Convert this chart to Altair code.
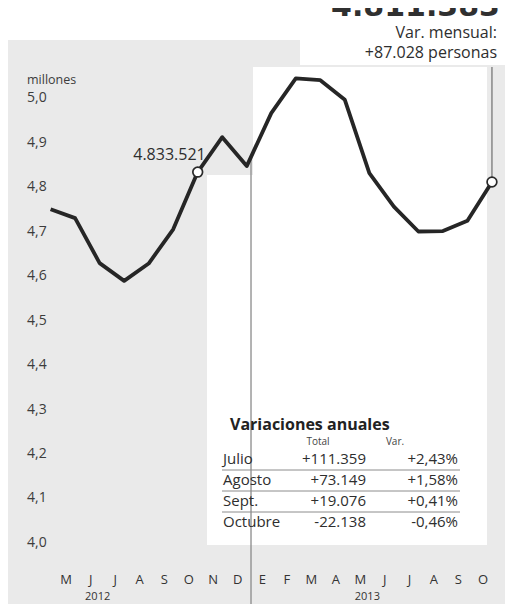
import altair as alt
import pandas as pd
import numpy as np

# ---------------- data ----------------
# monthly points, April 2012 .. October 2013 (millions of people)
point_months = ["A", "M", "J", "J", "A", "S", "O", "N", "D",
                "E", "F", "M", "A", "M", "J", "J", "A", "S", "O"]
values = [4.750, 4.730, 4.629, 4.589, 4.628, 4.705, 4.833521, 4.912, 4.847,
          4.966, 5.044, 5.040, 4.996, 4.831, 4.756, 4.700, 4.701, 4.724, 4.811383]

# x-axis month letters (first point, April 2012, carries no letter)
axis_months = point_months[1:]
years = ["2012", "2013"]
year_at = [2, 13]

y_ticks = [5.0, 4.9, 4.8, 4.7, 4.6, 4.5, 4.4, 4.3, 4.2, 4.1, 4.0]
y_tick_labels = ["5,0", "4,9", "4,8", "4,7", "4,6", "4,5", "4,4", "4,3", "4,2", "4,1", "4,0"]

highlight_idx = [6, 18]
highlight_label = ["4.833.521", ""]

big_number = "4.811.383"
sub_lines = ["Var. mensual:", "+87.028 personas"]

table_title = "Variaciones anuales"
table_header = ["Total", "Var."]
table_rows = ["Julio", "Agosto", "Sept.", "Octubre"]
table_totals = ["+111.359", "+73.149", "+19.076", "-22.138"]
table_pct = ["+2,43%", "+1,58%", "+0,41%", "-0,46%"]

# ---------------- layout ----------------
W, H = 497, 596
FONT = "Open Sans"
INK = "#2e2e2e"
GREY = "#eaeaea"

idx = list(range(len(values)))
df = pd.DataFrame({"i": idx, "v": values, "m": point_months})
xs = alt.Scale(domain=[-1.737, 18.532], nice=False, zero=False)
ys = alt.Scale(domain=[3.86292, 5.20225], nice=False, zero=False)
X = lambda f: alt.X(f, scale=xs, axis=None)
Y = lambda f: alt.Y(f, scale=ys, axis=None)

# background (scan-like grey with white panels)
bg = pd.DataFrame({
    "x": [0, 292, 245, 199], "x2": [292, 497, 479, 245],
    "y": [32, 57, 59, 167], "y2": [596, 596, 537, 537],
    "c": [GREY, GREY, "#ffffff", "#ffffff"],
})
background = alt.Chart(bg).mark_rect().encode(
    x=alt.X("x:Q", scale=None), x2="x2:Q",
    y=alt.Y("y:Q", scale=None), y2="y2:Q",
    color=alt.Color("c:N", scale=None),
)

# year separator between December and January
sep_i = 8.5
sep_top = float(np.interp(sep_i - 0.3, idx, values))
sep = alt.Chart(pd.DataFrame({"i": [sep_i], "v": [sep_top]})).mark_rule(
    color="#8a8a8a", strokeWidth=1.3
).encode(x=X("i:Q"), y=Y("v:Q"), y2=alt.value(H), xOffset=alt.value(-8))

line = alt.Chart(df).mark_line(color="#262626", strokeWidth=3.8, strokeJoin="round").encode(
    x=X("i:Q"), y=Y("v:Q")
)

hl = pd.DataFrame({"i": highlight_idx, "v": [values[k] for k in highlight_idx],
                   "t": highlight_label})
last = hl.iloc[[1]]
pointer = alt.Chart(last).mark_rule(color="#777777", strokeWidth=1.3).encode(
    x=X("i:Q"), y=Y("v:Q"), y2=alt.value(59)
)
circles = alt.Chart(hl).mark_point(
    shape="circle", filled=True, fill="white", stroke="#2a2a2a", strokeWidth=1.7, size=95, opacity=1
).encode(x=X("i:Q"), y=Y("v:Q"))
hl_text = alt.Chart(hl.iloc[[0]]).mark_text(
    align="right", baseline="middle", dx=8, dy=-17, font=FONT, fontSize=16, color=INK
).encode(x=X("i:Q"), y=Y("v:Q"), text="t:N")

# y tick labels
yt = pd.DataFrame({"v": y_ticks, "t": y_tick_labels})
ylabels = alt.Chart(yt).mark_text(
    align="left", baseline="middle", font=FONT, fontSize=14, color="#3c3c3c"
).encode(x=alt.value(19), y=Y("v:Q"), text="t:N")
unit = alt.Chart(pd.DataFrame({"t": ["millones"]})).mark_text(
    align="left", baseline="middle", font=FONT, fontSize=12.5, color="#3c3c3c"
).encode(x=alt.value(19), y=alt.value(72), text="t:N")

# month letters and years
mdf = pd.DataFrame({"i": idx[1:], "t": axis_months})
mlabels = alt.Chart(mdf).mark_text(
    align="center", baseline="middle", dx=-9, font=FONT, fontSize=13, color="#333333"
).encode(x=X("i:Q"), y=alt.value(572), text="t:N")
ydf = pd.DataFrame({"i": year_at, "t": years})
ylab = alt.Chart(ydf).mark_text(
    align="center", baseline="middle", dx=-2, font=FONT, fontSize=11, color="#333333"
).encode(x=X("i:Q"), y=alt.value(589), text="t:N")

# headline at the top right
big = alt.Chart(pd.DataFrame({"t": [big_number]})).mark_text(
    align="right", baseline="alphabetic", font="DejaVu Sans", fontWeight="bold",
    fontSize=30, color="#303030"
).encode(x=alt.value(492), y=alt.value(8), text="t:N")
sub = alt.Chart(pd.DataFrame({"t": sub_lines, "y": [25, 45]})).mark_text(
    align="right", baseline="middle", font=FONT, fontSize=16, color=INK
).encode(x=alt.value(489), y=alt.Y("y:Q", scale=None), text="t:N")

# table of annual variations
ttl = alt.Chart(pd.DataFrame({"t": [table_title]})).mark_text(
    align="left", baseline="middle", font=FONT, fontWeight="bold", fontSize=16, color="#222222"
).encode(x=alt.value(222), y=alt.value(417), text="t:N")
hdr = alt.Chart(pd.DataFrame({"t": table_header, "x": [310, 387]})).mark_text(
    align="center", baseline="middle", font=FONT, fontSize=10, color="#444444"
).encode(x=alt.X("x:Q", scale=None), y=alt.value(434), text="t:N")

tdf = pd.DataFrame({"r": range(len(table_rows)), "name": table_rows,
                    "tot": table_totals, "pct": table_pct})
row_y = "451 + datum.r * 21"
tbase = alt.Chart(tdf).transform_calculate(yp=row_y)
tname = tbase.mark_text(align="left", baseline="middle", font=FONT, fontSize=15, color=INK).encode(
    x=alt.value(215), y=alt.Y("yp:Q", scale=None), text="name:N")
ttot = tbase.mark_text(align="right", baseline="middle", font=FONT, fontSize=15, color=INK).encode(
    x=alt.value(358), y=alt.Y("yp:Q", scale=None), text="tot:N")
tpct = tbase.mark_text(align="right", baseline="middle", font=FONT, fontSize=15, color=INK).encode(
    x=alt.value(450), y=alt.Y("yp:Q", scale=None), text="pct:N")
tline = alt.Chart(tdf[tdf.r < 3]).transform_calculate(yl=row_y + " + 11").mark_rule(
    color="#8c8c8c", strokeWidth=1
).encode(x=alt.value(214), x2=alt.value(452), y=alt.Y("yl:Q", scale=None))

chart = alt.layer(
    background, sep, tline, pointer, line, circles, hl_text, ylabels, unit,
    mlabels, ylab, big, sub, ttl, hdr, tname, ttot, tpct
).properties(
    width=W, height=H, autosize=alt.AutoSizeParams(type="none"), padding=0,
    background="white"
).configure_view(stroke=None)

chart.save("out.html", embed_options={"renderer": "svg", "actions": False})
